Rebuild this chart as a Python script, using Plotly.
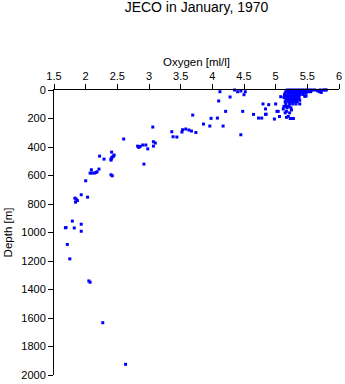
import plotly.graph_objects as go

# Oxygen [ml/l] and depth [m] pairs
deep_oxygen = [2.60, 3.06, 3.36, 3.38, 3.44, 3.07, 3.10, 3.07, 2.82, 2.84, 2.86, 2.90, 2.95, 2.98, 2.92,
               2.41, 2.40, 2.41, 2.42, 2.44, 2.45, 2.40, 2.22, 2.29, 2.21, 2.09, 2.07, 2.10, 2.14, 2.16,
               2.18, 2.40, 2.42, 2.00, 1.83, 1.85, 1.87, 1.84, 1.93, 2.03, 1.79, 1.93, 1.69, 1.68, 1.82,
               1.93, 1.71, 1.75, 2.05, 2.07, 2.27, 2.63]
deep_depth = [344, 260, 293, 328, 330, 363, 372, 394, 394, 403, 396, 386, 386, 413, 520,
              436, 485, 478, 470, 464, 457, 492, 464, 485, 555, 560, 583, 583, 583, 579,
              574, 595, 602, 637, 759, 766, 776, 787, 735, 752, 920, 942, 965, 967, 968,
              991, 1084, 1185, 1340, 1349, 1633, 1925]

mid_oxygen = [4.12, 4.35, 4.40, 4.45, 4.52, 4.50, 4.28, 4.10, 4.80, 4.84, 4.89, 4.21, 4.48, 4.65, 4.73,
              4.78, 4.84, 3.69, 3.98, 4.08, 3.86, 3.96, 4.17, 4.45, 3.53, 3.58, 3.63, 3.67, 3.74, 3.52,
              5.00, 4.85, 5.02, 5.12, 5.17, 5.25, 4.98, 5.06, 5.17, 5.23, 5.38, 5.46, 5.68, 5.72, 5.78,
              5.04, 5.08, 5.48]
mid_depth = [12, 0, 12, 7, 12, 33, 49, 77, 98, 133, 103, 150, 150, 171, 197,
             197, 171, 176, 199, 197, 239, 253, 253, 314, 279, 274, 281, 288, 298, 295,
             98, 170, 150, 133, 150, 140, 204, 186, 192, 200, 98, 45, 5, 17, 0,
             150, 47, 42]

surface_oxygen = [5.18, 5.22, 5.26, 5.30, 5.34, 5.38, 5.42, 5.46, 5.50, 5.54, 5.58, 5.62, 5.70, 5.75, 5.80,
                  5.20, 5.28, 5.32, 5.36, 5.40, 5.44, 5.48, 5.52, 5.56, 5.66, 5.71,
                  5.16, 5.21, 5.25, 5.29, 5.33, 5.37, 5.41, 5.45, 5.51, 5.55, 5.69,
                  5.15, 5.19, 5.24, 5.28, 5.31, 5.35, 5.39, 5.44, 5.48,
                  5.14, 5.20, 5.26, 5.30, 5.34, 5.38, 5.43,
                  5.17, 5.22, 5.27, 5.31, 5.36,
                  5.13, 5.19, 5.24, 5.29, 5.33, 5.37,
                  5.16, 5.21, 5.26, 5.31, 5.35,
                  5.18, 5.23, 5.28, 5.33, 5.38,
                  5.15, 5.20, 5.25, 5.30, 5.34,
                  5.16, 5.22, 5.27, 5.32,
                  5.13, 5.17, 5.21,
                  5.18, 5.24,
                  5.15, 5.22,
                  5.20, 5.25, 5.28]
surface_depth = [0, 0, 0, 0, 0, 0, 0, 0, 0, 0, 0, 0, 0, 0, 0,
                 5, 5, 5, 5, 5, 5, 5, 5, 5, 5, 5,
                 12, 12, 12, 12, 12, 12, 12, 12, 12, 12, 12,
                 22, 22, 22, 22, 22, 22, 22, 22, 22,
                 32, 32, 32, 32, 32, 32, 32,
                 42, 42, 42, 42, 42,
                 52, 52, 52, 52, 52, 52,
                 62, 62, 62, 62, 62,
                 72, 72, 72, 72, 72,
                 82, 82, 82, 82, 82,
                 98, 98, 98, 98,
                 115, 115, 115,
                 125, 125,
                 160, 160,
                 185, 200, 200]

oxygen = deep_oxygen + mid_oxygen + surface_oxygen
depth = deep_depth + mid_depth + surface_depth

x_ticks = [1.5, 2, 2.5, 3, 3.5, 4, 4.5, 5, 5.5, 6]
y_ticks = [0, 200, 400, 600, 800, 1000, 1200, 1400, 1600, 1800, 2000]

FONT = "Liberation Sans, Arial, sans-serif"

fig = go.Figure(go.Scatter(
    x=oxygen, y=depth, mode="markers",
    marker=dict(symbol="square", size=3, color="#0000ff", line=dict(width=0)),
    cliponaxis=False, hoverinfo="x+y",
))

fig.update_layout(
    width=345, height=384,
    margin=dict(l=54, r=6, t=90, b=9, autoexpand=False),
    paper_bgcolor="white", plot_bgcolor="white",
    showlegend=False,
    font=dict(family=FONT, size=11, color="black"),
    title=dict(text="JECO in January, 1970", x=0.5, xref="paper", xanchor="center",
               y=1 - 7.5 / 384, yref="container", yanchor="middle",
               font=dict(family=FONT, size=14, color="black")),
    xaxis=dict(side="top", range=[1.5, 6], tickvals=x_ticks, ticktext=[f"{v:g}" for v in x_ticks],
               ticks="outside", ticklen=5, tickcolor="black", showline=True, linecolor="black",
               linewidth=1, showgrid=False, zeroline=False, automargin=False,
               title=dict(text="Oxygen [ml/l]", standoff=0, font=dict(size=11.5))),
    yaxis=dict(range=[2000, 0], tickvals=y_ticks, ticktext=[str(v) for v in y_ticks],
               ticks="outside", ticklen=5, tickcolor="black", showline=True, linecolor="black",
               linewidth=1, showgrid=False, zeroline=False, automargin=False,
               title=dict(text="Depth [m]", standoff=6, font=dict(size=11.5))),
)

fig.write_html("out.html")
